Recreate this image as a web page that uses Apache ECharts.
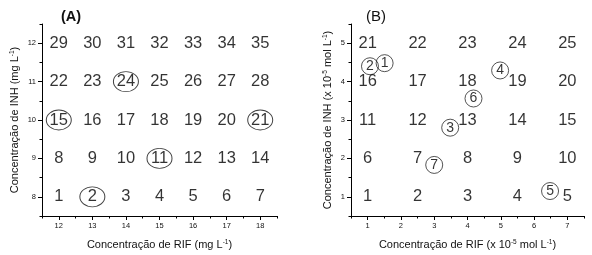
<!DOCTYPE html>
<html><head><meta charset="utf-8">
<script src="https://cdn.jsdelivr.net/npm/echarts@6/dist/echarts.min.js"></script>
<style>html,body{margin:0;padding:0;background:#fff}#c{width:592px;height:255px}</style>
</head><body><div id="c"></div>
<script>
// Panel A
const aXValues = [12, 13, 14, 15, 16, 17, 18];
const aYValues = [8, 9, 10, 11, 12];
const aLabels = [
  [1, 2, 3, 4, 5, 6, 7],
  [8, 9, 10, 11, 12, 13, 14],
  [15, 16, 17, 18, 19, 20, 21],
  [22, 23, 24, 25, 26, 27, 28],
  [29, 30, 31, 32, 33, 34, 35]
];
const aCircled = [2, 11, 15, 21, 24];
const aXTicks = [12, 13, 14, 15, 16, 17, 18];
const aYTicks = [8, 9, 10, 11, 12];

// Panel B
const bXValues = [1, 2.5, 4, 5.5, 7];
const bYValues = [1, 2, 3, 4, 5];
const bLabels = [
  [1, 2, 3, 4, 5],
  [6, 7, 8, 9, 10],
  [11, 12, 13, 14, 15],
  [16, 17, 18, 19, 20],
  [21, 22, 23, 24, 25]
];
const bCircledLabels = ['1', '2', '3', '4', '5', '6', '7'];
const bCircledX = [1.51, 1.07, 3.48, 4.98, 6.48, 4.18, 3.0];
const bCircledY = [4.48, 4.40, 2.80, 4.29, 1.15, 3.56, 1.83];
const bXTicks = [1, 2, 3, 4, 5, 6, 7];
const bYTicks = [1, 2, 3, 4, 5];

const FONT = 'Liberation Sans, Arial, sans-serif';
const INK = '#000';

function gridPoints(xs, ys, labels, filter) {
  const out = [];
  ys.forEach((y, r) => xs.forEach((x, c) => {
    const l = labels[r][c];
    if (filter(l)) out.push([x, y, String(l)]);
  }));
  return out;
}

const aPlain = gridPoints(aXValues, aYValues, aLabels, l => aCircled.indexOf(l) < 0);
const aRing = gridPoints(aXValues, aYValues, aLabels, l => aCircled.indexOf(l) >= 0);
const bPlain = gridPoints(bXValues, bYValues, bLabels, () => true);
const bRing = bCircledLabels.map((l, i) => [bCircledX[i], bCircledY[i], l]);

const nameStyle = {
  fontSize: 11, color: '#111', fontFamily: FONT,
  rich: { sup: { fontSize: 6.5, verticalAlign: 'top', color: '#111', fontFamily: FONT }, n: { fontSize: 11, color: '#111', fontFamily: FONT } }
};

function mainX(grid, min, max, ticks, name) {
  return {
    type: 'value', gridIndex: grid, min, max, position: 'bottom',
    axisLine: { show: true, lineStyle: { color: '#000', width: 1 } },
    axisTick: { show: true, length: 4, inside: false, customValues: ticks, lineStyle: { color: '#000' } },
    axisLabel: { show: true, customValues: ticks, fontSize: 7.5, color: '#111', fontFamily: FONT, margin: 6 },
    splitLine: { show: false },
    name, nameLocation: 'middle', nameGap: 23,
    nameTextStyle: nameStyle
  };
}
function minorX(grid, min, max) {
  return {
    type: 'value', gridIndex: grid, min, max, interval: 0.5, position: 'bottom',
    axisLine: { show: false }, axisLabel: { show: false }, splitLine: { show: false },
    axisTick: { show: true, length: 2.5, lineStyle: { color: '#000' } }
  };
}
function mainY(grid, min, max, ticks, name, gap) {
  return {
    type: 'value', gridIndex: grid, min, max, position: 'left',
    axisLine: { show: true, lineStyle: { color: '#000', width: 1 } },
    axisTick: { show: true, length: 4, customValues: ticks, lineStyle: { color: '#000' } },
    axisLabel: { show: true, customValues: ticks, fontSize: 7.5, color: '#111', fontFamily: FONT, margin: 6 },
    splitLine: { show: false },
    name, nameLocation: 'middle', nameGap: gap,
    nameTextStyle: nameStyle
  };
}
function minorY(grid, min, max) {
  return {
    type: 'value', gridIndex: grid, min, max, interval: 0.5, position: 'left',
    axisLine: { show: false }, axisLabel: { show: false }, splitLine: { show: false },
    axisTick: { show: true, length: 2.5, lineStyle: { color: '#000' } }
  };
}

function textSeries(data, xi, yi, size) {
  return {
    type: 'scatter', xAxisIndex: xi, yAxisIndex: yi, data, symbolSize: 1,
    itemStyle: { color: 'rgba(0,0,0,0)' }, silent: true,
    label: { show: true, position: 'inside', formatter: p => p.value[2], fontSize: size, color: INK, fontFamily: FONT }
  };
}
function ringSeries(data, xi, yi, symSize, size) {
  return {
    type: 'scatter', xAxisIndex: xi, yAxisIndex: yi, data, symbol: 'circle', symbolSize: symSize,
    itemStyle: { color: 'rgba(0,0,0,0)', borderColor: '#111', borderWidth: 0.9 }, silent: true,
    label: { show: true, position: 'inside', formatter: p => p.value[2], fontSize: size, color: INK, fontFamily: FONT }
  };
}

const chart = echarts.init(document.getElementById('c'), null, { renderer: 'canvas' });
chart.setOption({
  animation: false,
  backgroundColor: '#fff',
  title: [
    { text: '(A)', left: 56, top: 4, textStyle: { fontSize: 14.5, fontWeight: 'bold', color: '#111', fontFamily: FONT } },
    { text: '(B)', left: 361, top: 4, textStyle: { fontSize: 15, fontWeight: 'normal', color: '#111', fontFamily: FONT } }
  ],
  grid: [
    { left: 42, top: 24, width: 235, height: 192 },
    { left: 351, top: 24, width: 233, height: 192 }
  ],
  xAxis: [
    mainX(0, 11.5, 18.5, aXTicks, '{n|Concentração de RIF (mg L}{sup|-1}{n|)}'),
    minorX(0, 11.5, 18.5),
    mainX(1, 0.5, 7.5, bXTicks, '{n|Concentração de RIF (x 10}{sup|-5}{n| mol L}{sup|-1}{n|)}'),
    minorX(1, 0.5, 7.5)
  ],
  yAxis: [
    mainY(0, 7.5, 12.5, aYTicks, '{n|Concentração de INH (mg L}{sup|-1}{n|)}', 22),
    minorY(0, 7.5, 12.5),
    mainY(1, 0.5, 5.5, bYTicks, '{n|Concentração de INH (x 10}{sup|-5}{n| mol L}{sup|-1}{n|)}', 18),
    minorY(1, 0.5, 5.5)
  ],
  series: [
    textSeries(aPlain, 0, 0, 16.5),
    ringSeries(aRing, 0, 0, [25, 20], 16.5),
    textSeries(bPlain, 2, 2, 16.5),
    ringSeries(bRing, 2, 2, 17, 14)
  ]
});
</script></body></html>
